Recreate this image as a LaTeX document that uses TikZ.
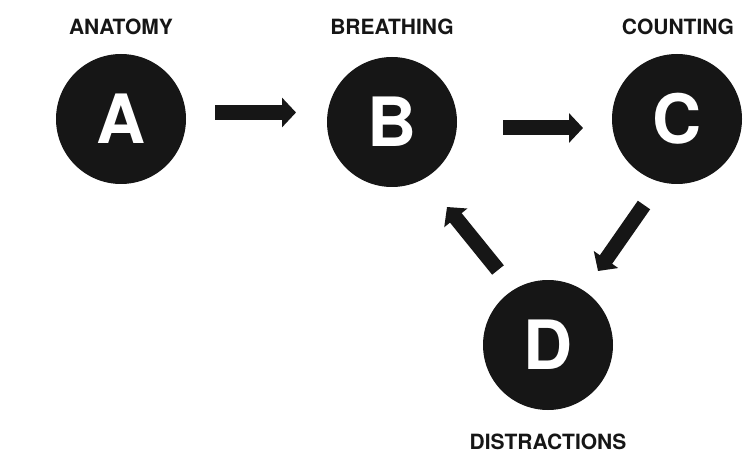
\documentclass[tikz,border=0pt]{standalone}
\usepackage{fontspec}
\setmainfont{TeX Gyre Heros}
\usetikzlibrary{arrows.meta,calc}
\definecolor{ink}{RGB}{22,22,22}
\tikzset{
  stage/.style={circle,fill=ink,minimum size=130pt,inner sep=0pt,text=white,
    font=\fontsize{68}{68}\selectfont\bfseries},
  caption/.style={inner sep=0pt,text=ink,font=\fontsize{21}{21}\selectfont\bfseries},
  flow/.style={draw=ink,line width=15pt,-{Triangle[length=14pt,width=29pt]}}
}

\begin{document}
\begin{tikzpicture}[x=1pt,y=-1pt]
    \useasboundingbox (0,0) rectangle (750,476);
    \node[stage] (A) at (121,119) {A};
    \node[stage] (B) at (392,122) {B};
    \node[stage] (C) at (677,119) {C};
    \node[stage] (D) at (548,345) {D};
    \node[caption] (capA) at (121,27) {ANATOMY};
    \node[caption] (capB) at (392,27) {BREATHING};
    \node[caption] (capC) at (678,27) {COUNTING};
    \node[caption] (capD) at (548,442) {DISTRACTIONS};
    \draw[flow] ($(A)+(94,-6.5)$) -- ($(B)+(-96,-9.5)$);
    \draw[flow] ($(B)+(111,6)$) -- ($(C)+(-94,9)$);
    \draw[flow] ($(C)+(-33,86)$) -- ($(D)+(50,-74)$);
    \draw[flow] ($(D)+(-50,-75)$) -- ($(B)+(55,85)$);
  \end{tikzpicture}
\end{document}
